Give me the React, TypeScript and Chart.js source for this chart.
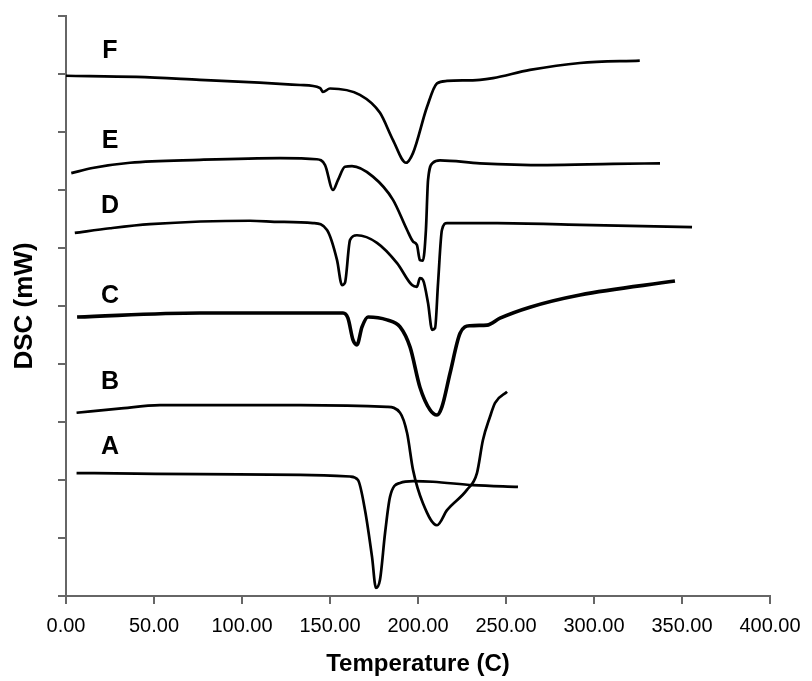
import React, { useEffect, useRef } from "react";
import { Chart, registerables } from "chart.js";

Chart.register(...registerables);

// Temperature (C) / DSC signal (arbitrary offset units) for each curve
const curveNames = ["A", "B", "C", "D", "E", "F"];

const tempA = [6, 40, 76, 133, 161.4, 165.9, 169.9, 173.9, 176.1, 178.4, 181.3, 184.1, 189.8, 197.2, 208.5, 231.3, 256.8];
const dscA = [2.12, 2.11, 2.1, 2.09, 2.06, 2.0, 1.48, 0.67, 0.14, 0.28, 1.09, 1.71, 1.95, 1.98, 1.97, 1.91, 1.88];

const tempB = [6, 30, 53.4, 133, 182.4, 189.8, 193.8, 197.2, 202.8, 210.8, 216.5, 227.8, 233.5, 236.9, 240.9, 243.8, 250.6];
const dscB = [3.16, 3.23, 3.29, 3.29, 3.26, 3.16, 2.81, 2.17, 1.6, 1.22, 1.48, 1.83, 2.12, 2.69, 3.09, 3.33, 3.52];

const tempC = [6.3, 76, 121.6, 157.4, 160.2, 163.1, 165.3, 168.2, 171.6, 182.4, 189.8, 195.5, 201.1, 206.8, 210.8, 213.6, 218.2, 223.9, 229.5, 239.2, 246.6, 263.6, 292, 346];
const dscC = [4.81, 4.88, 4.88, 4.88, 4.79, 4.41, 4.33, 4.64, 4.81, 4.76, 4.64, 4.29, 3.6, 3.21, 3.12, 3.26, 3.84, 4.53, 4.66, 4.67, 4.79, 4.98, 5.19, 5.43];

const tempD = [5, 25, 47.7, 104.5, 121.6, 140.3, 148.3, 154, 156.8, 158.5, 161.4, 165.3, 176.7, 188.1, 196.6, 199.4, 201.1, 202.8, 205.7, 208, 209.7, 211.4, 213.6, 216.5, 244.9, 292, 355.7];
const dscD = [6.26, 6.34, 6.41, 6.47, 6.45, 6.43, 6.31, 5.79, 5.36, 5.4, 6.14, 6.22, 6.09, 5.74, 5.36, 5.33, 5.48, 5.45, 5.05, 4.59, 4.62, 5.4, 6.31, 6.43, 6.43, 6.4, 6.36];

const tempE = [3, 15, 36.4, 76, 121.6, 142.4, 147.2, 151.7, 154.5, 158.5, 162.5, 174.4, 185.8, 193.8, 197.2, 199.4, 201.1, 202.8, 204.5, 205.7, 208.5, 212.5, 235.2, 273.3, 310.8, 337.5];
const dscE = [7.29, 7.38, 7.47, 7.52, 7.55, 7.53, 7.43, 7.0, 7.17, 7.4, 7.41, 7.23, 6.83, 6.31, 6.11, 6.05, 5.79, 5.78, 6.31, 7.17, 7.47, 7.51, 7.46, 7.43, 7.45, 7.46];

const tempF = [0, 40, 76, 110, 133, 144.3, 146, 150, 167, 178.4, 185.8, 193.2, 197.2, 205.1, 210.8, 216.5, 235.2, 242.6, 263.6, 292, 326];
const dscF = [8.97, 8.95, 8.9, 8.85, 8.81, 8.76, 8.69, 8.75, 8.64, 8.33, 7.86, 7.47, 7.64, 8.43, 8.84, 8.88, 8.9, 8.93, 9.07, 9.19, 9.23];

// label anchors (data coordinates)
const labelTemp = [25, 25, 25, 25, 25, 25];
const labelDsc = [2.56, 3.68, 5.17, 6.72, 7.84, 9.4];

const xTickStep = 50;
const xMin = 0;
const xMax = 400;
const yMin = 0;
const yMax = 10;

const FONT = '"Liberation Sans", Arial, sans-serif';

const curves = [
  [tempA, dscA],
  [tempB, dscB],
  [tempC, dscC],
  [tempD, dscD],
  [tempE, dscE],
  [tempF, dscF],
];

const labelPlugin = {
  id: "curveLabels",
  afterDatasetsDraw(chart: any) {
    const { ctx, scales } = chart;
    const xs = scales.x;
    const ys = scales.y;
    ctx.save();
    ctx.font = `bold 25px ${FONT}`;
    ctx.fillStyle = "#000";
    ctx.textAlign = "center";
    ctx.textBaseline = "middle";
    curveNames.forEach((n, i) => {
      ctx.fillText(n, xs.getPixelForValue(labelTemp[i]), ys.getPixelForValue(labelDsc[i]));
    });
    ctx.restore();
  },
};

export default function App() {
  const ref = useRef<HTMLCanvasElement>(null);

  useEffect(() => {
    if (!ref.current) return;
    const datasets = curves.map(([t, d], i) => ({
      label: curveNames[i],
      data: t.map((tv, k) => ({ x: tv, y: d[k] })),
      borderColor: "#000",
      borderWidth: curveNames[i] === "C" ? 3.6 : 2.7,
      pointRadius: 0,
      fill: false,
      cubicInterpolationMode: "monotone" as const,
    }));
    const chart = new Chart(ref.current, {
      type: "line",
      data: { datasets },
      plugins: [labelPlugin],
      options: {
        animation: false,
        responsive: false,
        layout: { padding: { top: 16, right: 42, left: 0, bottom: 0 } },
        plugins: {
          legend: { display: false },
          tooltip: { enabled: false },
        },
        scales: {
          x: {
            type: "linear",
            min: xMin,
            max: xMax,
            afterFit: (scale: any) => {
              scale.height = 85;
            },
            ticks: {
              stepSize: xTickStep,
              callback: (v: any) => Number(v).toFixed(2),
              font: { family: FONT, size: 20 },
              color: "#000",
              padding: 10,
              maxRotation: 0,
              autoSkip: false,
            },
            grid: {
              drawOnChartArea: false,
              drawTicks: true,
              tickLength: 8,
              color: "#666",
              lineWidth: 2,
            },
            border: { display: true, color: "#666", width: 2 },
            title: {
              display: true,
              text: "Temperature (C)",
              color: "#000",
              font: { family: FONT, size: 24, weight: "bold" },
              padding: { top: 0, bottom: 2 },
            },
          },
          y: {
            type: "linear",
            min: yMin,
            max: yMax,
            afterFit: (scale: any) => {
              scale.width = 66;
            },
            ticks: {
              stepSize: 1,
              display: false,
            },
            grid: {
              drawOnChartArea: false,
              drawTicks: true,
              tickLength: 8,
              color: "#666",
              lineWidth: 2,
            },
            border: { display: true, color: "#666", width: 2 },
            title: {
              display: true,
              text: "DSC (mW)",
              color: "#000",
              font: { family: FONT, size: 26, weight: "bold" },
              padding: { top: 9, bottom: 0 },
            },
          },
        },
      },
    });
    return () => chart.destroy();
  }, []);

  return (
    <div style={{ position: "absolute", left: 0, top: 0, width: 812, height: 681, background: "#fff" }}>
      <canvas ref={ref} width={812} height={681} style={{ display: "block" }} />
    </div>
  );
}
